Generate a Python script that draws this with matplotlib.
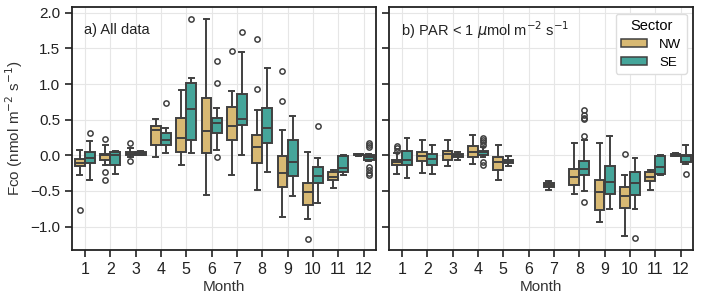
import numpy as np
import matplotlib.pyplot as plt
from matplotlib.patches import Patch

plt.rcParams['font.family'] = ['Liberation Sans', 'DejaVu Sans']

months = [str(m) for m in range(1, 13)]
sectors = ['NW', 'SE']
colors = {'NW': '#d8b973', 'SE': '#45a59a'}

# box statistics per month: whisker low, q1, median, q3, whisker high (None = no data)
# panel a) all data
a_nw_lo  = [-0.28, -0.14, -0.03, -0.03, -0.14, -0.56, -0.28, -0.49, -0.86, -0.89, -0.46, -0.01]
a_nw_q1  = [-0.15, -0.07,  0.01,  0.14,  0.05,  0.03,  0.21, -0.11, -0.45, -0.70, -0.35,  0.00]
a_nw_med = [-0.11,  0.00,  0.02,  0.36,  0.25,  0.34,  0.41,  0.12, -0.25, -0.52, -0.30,  0.01]
a_nw_q3  = [-0.05,  0.02,  0.04,  0.41,  0.52,  0.81,  0.68,  0.28, -0.01, -0.39, -0.24,  0.02]
a_nw_hi  = [ 0.075, 0.14,  0.10,  0.51,  0.92,  1.92,  0.90,  0.64,  0.35,  0.05, -0.21,  0.02]
a_nw_fl  = [[-0.77], [0.23, -0.24, -0.34], [0.17, -0.08], [], [], [], [1.46], [1.63, 0.93],
            [1.18, 0.76], [-1.17], [], []]

a_se_lo  = [-0.34, -0.26,  0.01,  0.03,  0.03,  0.08,  0.01, -0.24, -0.57, -0.67, -0.28, -0.08]
a_se_q1  = [-0.11, -0.13,  0.01,  0.14,  0.21,  0.31,  0.42,  0.17, -0.29, -0.39, -0.24, -0.07]
a_se_med = [-0.04,  0.00,  0.03,  0.21,  0.65,  0.45,  0.51,  0.39, -0.10, -0.29, -0.18, -0.02]
a_se_q3  = [ 0.04,  0.04,  0.05,  0.32,  1.02,  0.53,  0.86,  0.66,  0.21, -0.17, -0.01,  0.00]
a_se_hi  = [ 0.20,  0.065, 0.065, 0.39,  1.08,  0.66,  1.45,  1.23,  0.55, -0.04,  0.00,  0.02]
a_se_fl  = [[0.31], [], [], [0.73], [1.92], [1.33, 1.01, -0.03], [1.73], [], [], [0.41], [],
            [0.17, 0.14, 0.12, -0.16, -0.20, -0.25, -0.28]]

# panel b) PAR < 1
b_nw_lo  = [-0.26, -0.25, -0.145, -0.12, -0.35, None, -0.49, -0.54, -0.93, -1.13, -0.48, -0.01]
b_nw_q1  = [-0.14, -0.08, -0.06, -0.02, -0.21, None, -0.45, -0.42, -0.77, -0.74, -0.36, -0.01]
b_nw_med = [-0.09, -0.01,  0.015, 0.04, -0.09, None, -0.42, -0.31, -0.51, -0.57, -0.30,  0.005]
b_nw_q3  = [-0.06,  0.05,  0.065, 0.13, -0.03, None, -0.39, -0.19, -0.35, -0.45, -0.24,  0.02]
b_nw_hi  = [ 0.03,  0.22,  0.22,  0.29,  0.15, None, -0.36,  0.17,  0.17, -0.27, -0.21,  0.03]
b_nw_fl  = [[0.13, 0.10, 0.065], [], [], [], [], [], [], [], [], [0.015], [], []]

b_se_lo  = [-0.32, -0.26, -0.07, -0.03, -0.145, None, None, -0.50, -0.75, -0.76, -0.28, -0.12]
b_se_q1  = [-0.14, -0.13, -0.03,  0.00, -0.11,  None, None, -0.28, -0.54, -0.56, -0.26, -0.09]
b_se_med = [-0.065, -0.05, 0.01,  0.04, -0.09,  None, None, -0.19, -0.38, -0.39, -0.17, -0.01]
b_se_q3  = [ 0.065, 0.015, 0.02,  0.065, -0.065, None, None, -0.075, -0.15, -0.24, -0.01, 0.00]
b_se_hi  = [ 0.24,  0.15,  0.04,  0.12, -0.01,  None, None,  0.21,  0.27, -0.04,  0.00,  0.15]
b_se_fl  = [[], [], [], [0.24, 0.21, 0.19, 0.15, -0.09, -0.13], [], [], [],
            [0.64, 0.56, 0.53, 0.51, 0.27, -0.65], [], [-1.16], [], [-0.26]]

panels = [
    ('a) All data',
     {'NW': (a_nw_lo, a_nw_q1, a_nw_med, a_nw_q3, a_nw_hi, a_nw_fl),
      'SE': (a_se_lo, a_se_q1, a_se_med, a_se_q3, a_se_hi, a_se_fl)}),
    (r'b) PAR < 1 $\mu$mol m$^{-2}$ s$^{-1}$',
     {'NW': (b_nw_lo, b_nw_q1, b_nw_med, b_nw_q3, b_nw_hi, b_nw_fl),
      'SE': (b_se_lo, b_se_q1, b_se_med, b_se_q3, b_se_hi, b_se_fl)}),
]

edge = '#404040'
fig, axes = plt.subplots(1, 2, figsize=(7.01, 2.96), dpi=100, sharey=True)
fig.subplots_adjust(left=0.103, right=0.989, top=0.976, bottom=0.155, wspace=0.043)

x = np.arange(len(months))
for ax, (title, data) in zip(axes, panels):
    for k, s in enumerate(sectors):
        lo, q1, med, q3, hi, fl = data[s]
        stats, pos = [], []
        for i in range(len(months)):
            if med[i] is None:
                continue
            stats.append(dict(whislo=lo[i], q1=q1[i], med=med[i], q3=q3[i],
                              whishi=hi[i], fliers=fl[i]))
            pos.append(x[i] + (k - 0.5) * 0.4)
        ax.bxp(stats, positions=pos, widths=0.39, patch_artist=True,
               boxprops=dict(facecolor=colors[s], edgecolor=edge, linewidth=1.4),
               medianprops=dict(color=edge, linewidth=1.4),
               whiskerprops=dict(color=edge, linewidth=1.4),
               capprops=dict(color=edge, linewidth=1.4),
               flierprops=dict(marker='o', markerfacecolor='none',
                               markeredgecolor=edge, markersize=3.8, markeredgewidth=1.1),
               zorder=3)
    ax.set_xlim(-0.5, 11.5)
    ax.set_xticks(x)
    ax.set_xticklabels(months)
    ax.set_ylim(-1.33, 2.08)
    ax.set_yticks([-1.0, -0.5, 0.0, 0.5, 1.0, 1.5, 2.0])
    ax.grid(True, color='#e6e6e6', linewidth=0.8, zorder=0)
    ax.set_axisbelow(True)
    ax.tick_params(direction='out', length=5, width=1.2, labelsize=11, colors='#222222')
    ax.tick_params(axis='x', labelsize=11.5)
    for sp in ax.spines.values():
        sp.set_linewidth(1.3)
        sp.set_color('#222222')
    ax.set_xlabel('Month', fontsize=11, color='#333333', labelpad=2)
    ax.text(0.04, 0.905, title, transform=ax.transAxes, fontsize=10.5,
            va='center', ha='left', color='#222222')

axes[0].set_ylabel(r'Fco (nmol m$^{-2}$ s$^{-1}$)', fontsize=11, color='#333333')
axes[1].tick_params(axis='y', labelleft=False)

handles = [Patch(facecolor=colors[s], edgecolor=edge, linewidth=1.1, label=s) for s in sectors]
axes[1].legend(handles=handles, title='Sector', loc='upper right', fontsize=9.5,
               title_fontsize=10.5, frameon=True, framealpha=1, edgecolor='#dddddd',
               borderaxespad=0.5, handlelength=2.0, handleheight=0.6,
               labelspacing=0.45, handletextpad=0.9, borderpad=0.4)

fig.savefig('out.png', dpi=100)
